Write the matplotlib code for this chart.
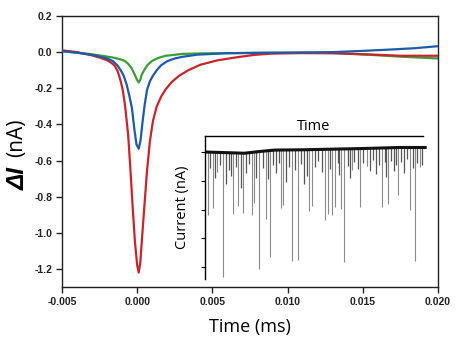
import matplotlib
matplotlib.use("Agg")
import matplotlib.pyplot as plt
import numpy as np

# ---- main event-averaged traces (time in ms, current in nA) ----
red_t = [-0.005, -0.004, -0.003, -0.0025, -0.002, -0.0017, -0.0015, -0.0013, -0.0011, -0.00096,
         -0.0008, -0.0006, -0.00045, -0.0003, -0.00015, 0.0, 0.0001, 0.0002, 0.00033, 0.00047,
         0.00065, 0.00085, 0.00105, 0.0013, 0.0016, 0.0019, 0.0023, 0.0028, 0.0034, 0.0042,
         0.0053, 0.0065, 0.0078, 0.009, 0.011, 0.013, 0.0155, 0.0175, 0.020]
red_v = [0.01, 0.0, -0.018, -0.03, -0.045, -0.06, -0.075, -0.105, -0.16, -0.21,
         -0.3, -0.46, -0.65, -0.86, -1.05, -1.18, -1.22, -1.17, -1.02, -0.86,
         -0.66, -0.49, -0.38, -0.30, -0.245, -0.205, -0.165, -0.13, -0.1, -0.07,
         -0.046, -0.03, -0.015, -0.008, -0.005, -0.006, -0.013, -0.02, -0.02]

blue_t = [-0.005, -0.004, -0.003, -0.0025, -0.002, -0.0016, -0.0013, -0.0011, -0.0009, -0.0007,
          -0.0005, -0.00035, -0.0002, -0.00005, 0.0001, 0.00022, 0.00035, 0.0005, 0.00065, 0.00085,
          0.00105, 0.0013, 0.0016, 0.002, 0.0025, 0.003, 0.004, 0.006, 0.009, 0.013,
          0.015, 0.017, 0.0185, 0.020]
blue_v = [0.005, -0.003, -0.015, -0.025, -0.035, -0.05, -0.075, -0.1, -0.13, -0.18,
          -0.25, -0.31, -0.42, -0.51, -0.535, -0.49, -0.39, -0.29, -0.21, -0.16,
          -0.13, -0.1, -0.072, -0.05, -0.035, -0.026, -0.014, -0.006, -0.003, 0.0,
          0.007, 0.015, 0.022, 0.033]

green_t = [-0.005, -0.004, -0.003, -0.0022, -0.0016, -0.0011, -0.0008, -0.0006, -0.0004, -0.0002,
           0.0, 0.0001, 0.0002, 0.0003, 0.0005, 0.0007, 0.001, 0.0014, 0.0019, 0.003,
           0.0042, 0.008, 0.013, 0.0155, 0.0175, 0.020]
green_v = [0.005, -0.003, -0.012, -0.022, -0.03, -0.04, -0.05, -0.065, -0.085, -0.118,
           -0.155, -0.168, -0.155, -0.125, -0.095, -0.07, -0.048, -0.032, -0.02, -0.01,
           -0.007, -0.004, -0.005, -0.015, -0.025, -0.035]

x_ticks = [-0.005, 0.000, 0.005, 0.010, 0.015, 0.020]
x_ticklabels = ["-0.005", "0.000", "0.005", "0.010", "0.015", "0.020"]
y_ticks = [0.2, 0.0, -0.2, -0.4, -0.6, -0.8, -1.0, -1.2]
y_ticklabels = ["0.2", "0.0", "-0.2", "-0.4", "-0.6", "-0.8", "-1.0", "-1.2"]

# ---- inset: raw current trace (arbitrary time / current units) ----
base_x = [1, 10, 18, 25, 32, 45, 57, 70, 80, 89, 101]
base_y = [0.0, -0.02, -0.04, 0.02, 0.07, 0.08, 0.10, 0.12, 0.14, 0.16, 0.16]

long_x = [1.5, 3.5, 5.5, 8.4, 13.0, 15.3, 17.6, 21.4, 22.5, 24.9, 27.8, 29.8, 34.9, 35.9, 40.1, 42.8,
          47.6, 48.9, 55.0, 56.6, 58.1, 59.6, 62.3, 63.9, 67.3, 71.1, 74.2, 81.1, 84.1, 88.7, 94.2,
          96.3, 98.6]
long_d = [-2.19, -1.95, -0.7, -4.34, -2.13, -1.84, -2.08, -2.19, -1.78, -4.1, -2.37, -3.70, -2.02, -1.9,
          -3.87, -3.82, -2.13, -1.96, -2.45, -2.25, -2.3, -2.0, -2.08, -3.93, -0.74, -2.05, -0.63,
          -2.05, -1.95, -1.67, -2.17, -3.97, -0.68]
short_x = [2.5, 4.5, 6.8, 9.5, 10.8, 12.0, 14.2, 16.5, 19.0, 20.3, 23.5, 26.5, 28.7, 31.0, 32.5, 33.8,
           37.0, 38.5, 41.5, 44.0, 45.5, 46.7, 50.3, 52.0, 53.5, 57.3, 60.8, 61.5, 65.5, 66.4, 68.5,
           70.0, 72.5, 75.5, 77.0, 78.5, 79.8, 82.5, 83.2, 85.5, 86.8, 87.5, 90.0, 91.5, 92.8, 95.2,
           97.4, 99.5]
short_d = [-0.55, -0.9, -0.45, -1.1, -0.6, -0.8, -0.5, -1.2, -0.7, -0.4, -0.9, -0.6, -1.0, -0.5, -0.8,
           -0.45, -1.1, -0.6, -0.7, -0.5, -1.2, -0.9, -0.6, -0.4, -0.8, -0.7, -0.5, -0.9, -0.6, -1.0,
           -0.45, -0.7, -0.5, -0.8, -0.4, -0.9, -0.6, -0.5, -1.0, -0.45, -0.8, -0.6, -0.5, -0.9, -0.4,
           -0.7, -0.55, -0.6]

W, H = 459, 346
fig = plt.figure(figsize=(W / 100, H / 100), dpi=100)

ax = fig.add_axes([62 / W, (H - 287) / H, 376 / W, 271 / H])
ax.plot(red_t, red_v, color="#c8242b", lw=1.6, zorder=3)
ax.plot(green_t, green_v, color="#3c9c3c", lw=1.6, zorder=2)
ax.plot(blue_t, blue_v, color="#1d5aa8", lw=1.6, zorder=4)
ax.set_xlim(-0.005, 0.020)
ax.set_ylim(-1.3, 0.2)
ax.set_xticks(x_ticks)
ax.set_xticklabels(x_ticklabels)
ax.set_yticks(y_ticks)
ax.set_yticklabels(y_ticklabels)
for s in ax.spines.values():
    s.set_linewidth(1.0)
    s.set_color("#222222")
ax.tick_params(direction="out", length=4, width=1.0, colors="#222222", pad=3)
for lab in ax.get_xticklabels() + ax.get_yticklabels():
    lab.set_fontfamily("Liberation Sans")
    lab.set_fontweight("bold")
    lab.set_fontsize(7.5)
ax.set_xlabel("Time (ms)", fontfamily="Open Sans", fontsize=13, labelpad=8)

fig.text(18 / W, 1 - 178 / H, "\u0394I", rotation=90, ha="center", va="center",
         fontfamily="Liberation Sans", fontweight="bold", fontstyle="italic", fontsize=17.5)
fig.text(17 / W, 1 - 138 / H, "(nA)", rotation=90, ha="center", va="center",
         fontfamily="Open Sans", fontsize=15)

# inset
ai = fig.add_axes([205 / W, (H - 279) / H, 218 / W, 143 / H])
ai.set_xlim(0, 100)
ai.set_ylim(-4.42, 0.56)
bx = np.array(base_x, dtype=float)
by = np.array(base_y, dtype=float)
lx = np.array(long_x); sx = np.array(short_x)
ai.vlines(lx, np.interp(lx, bx, by), np.array(long_d) + np.interp(lx, bx, by),
          color="#8a8a8a", lw=0.8, clip_on=False)
ai.vlines(sx, np.interp(sx, bx, by), np.array(short_d) + np.interp(sx, bx, by),
          color="#555555", lw=0.9, clip_on=False)
ai.plot(bx, by, color="#111111", lw=2.2, clip_on=False, zorder=5)
ai.set_xticks([])
ai.set_yticks([0, -1, -2, -3, -4])
ai.set_yticklabels([])
ai.tick_params(axis="y", direction="out", length=3, width=0.8)
ai.spines["right"].set_visible(False)
ai.spines["bottom"].set_visible(False)
ai.spines["top"].set_linewidth(1.0)
ai.spines["left"].set_linewidth(1.0)
ai.patch.set_alpha(0)
ai.set_title("Time", fontfamily="Open Sans", fontsize=10.5, pad=4)
ai.set_ylabel("Current (nA)", fontfamily="Open Sans", fontsize=10.5, labelpad=4)

fig.savefig("out.png", dpi=100)
